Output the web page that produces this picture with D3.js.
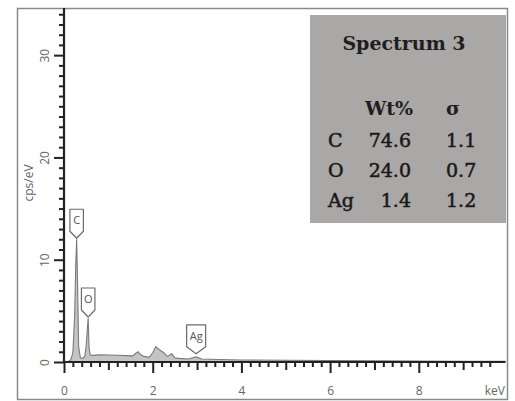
<!DOCTYPE html>
<html>
<head>
<meta charset="utf-8">
<script src="https://cdn.jsdelivr.net/npm/d3@7"></script>
<style>
  html, body { margin: 0; padding: 0; background: #fff; }
  svg { display: block; }
</style>
</head>
<body>
<div id="chart"></div>
<script>
// spectrum (keV, cps/eV)
const energy = [0, 0.1, 0.15, 0.2, 0.24, 0.265, 0.285, 0.305, 0.33, 0.37, 0.42, 0.47, 0.5, 0.525, 0.545, 0.565, 0.59, 0.65,
  0.8, 1.0, 1.2, 1.4, 1.55, 1.62, 1.67, 1.72, 1.8, 1.92, 2.0, 2.07, 2.15, 2.25, 2.33, 2.43, 2.5, 2.6, 2.8, 2.98, 3.1,
  3.5, 4.0, 5.0, 6.0, 7.0, 8.0, 9.0, 9.95];
const counts = [0, 0.05, 0.2, 0.9, 4.5, 9.5, 12.0, 8.0, 1.5, 0.4, 0.35, 0.6, 1.6, 3.2, 4.3, 1.4, 0.7, 0.65,
  0.7, 0.68, 0.66, 0.62, 0.6, 0.85, 1.0, 0.75, 0.55, 0.45, 0.9, 1.5, 1.2, 0.9, 0.55, 0.8, 0.4, 0.35, 0.3, 0.5, 0.3,
  0.25, 0.2, 0.17, 0.14, 0.12, 0.1, 0.08, 0.07];

// element markers
const elements = ['C', 'O', 'Ag'];
const elementKeV = [0.285, 0.545, 2.98];
const elementTip = [12.0, 4.3, 0.7];

// quant table
const tableTitle = 'Spectrum 3';
const tableHeader = ['Wt%', 'σ'];
const wtPercent = ['74.6', '24.0', '1.4'];
const sigma = ['1.1', '0.7', '1.2'];

const xMajor = [0, 2, 4, 6, 8];
const yMajor = [0, 10, 20, 30];

const W = 515, H = 401;
const svg = d3.select('#chart').append('svg').attr('width', W).attr('height', H);

// outer frame
svg.append('rect').attr('x', 17.5).attr('y', 8.5).attr('width', 490).attr('height', 391)
  .attr('fill', 'none').attr('stroke', '#8a8a8a').attr('stroke-width', 1.5);

const x = d3.scaleLinear().domain([0, 10]).range([64, 507.5]);
const y = d3.scaleLinear().domain([0, 35]).range([362, 4]);

// spectrum
const pts = energy.map((e, i) => [e, counts[i]]);
svg.append('path').datum(pts)
  .attr('fill', '#c4c4c4')
  .attr('stroke', '#7a7a7a')
  .attr('stroke-width', 1.1)
  .attr('d', d3.area().x(d => x(d[0])).y0(y(0)).y1(d => y(d[1])));

// x axis: minor, odd, even ticks
const fontAxis = '"Open Sans", sans-serif';
function xAxis(vals, size, labels) {
  const g = svg.append('g').attr('transform', `translate(0,${y(0)})`)
    .call(d3.axisBottom(x).tickValues(vals).tickSize(size).tickSizeOuter(0)
      .tickFormat(labels ? d3.format('d') : ''));
  g.select('.domain').remove();
  g.selectAll('.tick line').attr('stroke', '#222').attr('stroke-width', 2);
  g.selectAll('.tick text').attr('fill', '#666').attr('font-size', 12)
    .attr('font-family', fontAxis).attr('dy', 0).attr('y', 33);
  return g;
}
xAxis(d3.range(0, 49).map(i => i * 0.2).filter(v => Math.abs(v - Math.round(v)) > 0.01), 5, false);
xAxis([1, 3, 5, 7, 9], 8, false);
xAxis(xMajor, 11, true);
svg.append('line').attr('x1', x(0) - 1).attr('x2', x(9.95)).attr('y1', y(0)).attr('y2', y(0))
  .attr('stroke', '#222').attr('stroke-width', 2.2);
svg.append('text').attr('x', 505).attr('y', 395).attr('text-anchor', 'end')
  .attr('fill', '#666').attr('font-size', 12).attr('font-family', fontAxis).text('keV');

// y axis
function yAxis(vals, size, labels) {
  const g = svg.append('g').attr('transform', `translate(${x(0)},0)`)
    .call(d3.axisLeft(y).tickValues(vals).tickSize(size).tickSizeOuter(0)
      .tickFormat(labels ? d3.format('d') : ''));
  g.select('.domain').remove();
  g.selectAll('.tick line').attr('stroke', '#222').attr('stroke-width', 2);
  g.selectAll('.tick text').attr('fill', '#666').attr('font-size', 12)
    .attr('font-family', fontAxis)
    .attr('transform', 'rotate(-90)').attr('x', 0).attr('y', -15).attr('dy', 0)
    .attr('text-anchor', 'middle');
  return g;
}
yAxis(d3.range(1, 35).filter(v => v % 10 !== 0), 5, false);
yAxis(yMajor, 10, true);
svg.append('line').attr('x1', x(0)).attr('x2', x(0)).attr('y1', y(0) + 1).attr('y2', y(34.6))
  .attr('stroke', '#222').attr('stroke-width', 2.2);
svg.append('text').attr('transform', `translate(33,${(y(0) + y(35)) / 2}) rotate(-90)`)
  .attr('text-anchor', 'middle').attr('fill', '#666').attr('font-size', 12)
  .attr('font-family', fontAxis).text('cps/eV');

// element markers
elements.forEach((el, i) => {
  const tx = x(elementKeV[i]), ty = y(elementTip[i]) - 1;
  const w = el.length > 1 ? 19 : 13.5, h = 22, p = 7;
  const l = tx - w / 2, r = tx + w / 2, b = ty - p, t = b - h;
  svg.append('path')
    .attr('d', `M${l},${t}H${r}V${b}L${tx},${ty}L${l},${b}Z`)
    .attr('fill', '#fff').attr('stroke', '#6a6a6a').attr('stroke-width', 1.2)
    .attr('stroke-linejoin', 'round');
  svg.append('text').attr('x', tx).attr('y', t + h / 2 + 4).attr('text-anchor', 'middle')
    .attr('fill', '#555').attr('font-size', 11).attr('font-family', fontAxis).text(el);
});

// quant table
const serif = '"DejaVu Serif", serif';
svg.append('rect').attr('x', 310).attr('y', 15).attr('width', 196).attr('height', 208)
  .attr('fill', '#aaa7a7');
svg.append('text').attr('x', 404).attr('y', 50).attr('text-anchor', 'middle')
  .attr('font-family', serif).attr('font-weight', 'bold').attr('font-size', 19)
  .attr('fill', '#1e1e1e').text(tableTitle);
const tcol = { el: 328, wt: 411, sg: 446 };
const rowY = [147, 177, 207];
svg.append('text').attr('x', 389).attr('y', 115).attr('text-anchor', 'middle')
  .attr('font-family', serif).attr('font-weight', 'bold').attr('font-size', 19)
  .attr('fill', '#1e1e1e').text(tableHeader[0]);
svg.append('text').attr('x', tcol.sg).attr('y', 115)
  .attr('font-family', serif).attr('font-weight', 'bold').attr('font-size', 19)
  .attr('fill', '#1e1e1e').text(tableHeader[1]);
elements.forEach((el, i) => {
  const row = svg.append('g').attr('font-family', serif).attr('font-size', 19)
    .attr('fill', '#1a1a1a').attr('stroke', '#1a1a1a').attr('stroke-width', 0.55);
  row.append('text').attr('x', tcol.el).attr('y', rowY[i]).text(el);
  row.append('text').attr('x', tcol.wt).attr('y', rowY[i]).attr('text-anchor', 'end').text(wtPercent[i]);
  row.append('text').attr('x', tcol.sg).attr('y', rowY[i]).text(sigma[i]);
});
</script>
</body>
</html>
